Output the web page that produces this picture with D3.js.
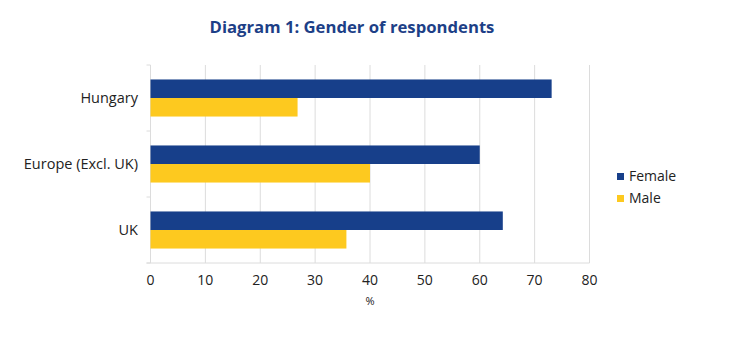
<!DOCTYPE html>
<meta charset="utf-8">
<head>
  <script src="https://cdn.jsdelivr.net/npm/d3@7"></script>
</head>
<style>
  body { margin: 0; background: #fff; }
  text { font-family: "Open Sans", sans-serif; fill: #222; }
</style>
<body></body>
<script>
  var categories = ["Hungary", "Europe (Excl. UK)", "UK"];
  var series = ["Female", "Male"];
  var female = [73.1, 60, 64.2];
  var male = [26.8, 40, 35.7];
  var xTicks = [0, 10, 20, 30, 40, 50, 60, 70, 80];
  var colors = ["#173f8a", "#fdc91f"];

  var width = 735, height = 337;
  var margin = {left: 150.5, right: 145.5, top: 65, bottom: 74};

  var svg = d3.select("body").append("svg")
      .attr("width", width)
      .attr("height", height);

  svg.append("text")
      .attr("x", 352)
      .attr("y", 33)
      .attr("text-anchor", "middle")
      .style("font-size", "16.7px")
      .style("font-weight", "bold")
      .style("fill", "#1d3f87")
      .text("Diagram 1: Gender of respondents");

  var x = d3.scaleLinear().domain([0, 80]).range([margin.left, width - margin.right]);
  var y = d3.scaleBand().domain(categories).range([margin.top, height - margin.bottom]);
  var inner = d3.scaleBand().domain(series).range([0, y.bandwidth()]).paddingInner(0).paddingOuter(0.78);

  // grid
  svg.append("g").selectAll("line").data(xTicks).enter().append("line")
      .attr("x1", function(d) { return x(d); })
      .attr("x2", function(d) { return x(d); })
      .attr("y1", margin.top)
      .attr("y2", height - margin.bottom)
      .style("stroke", "#dcdcdc")
      .style("stroke-width", 1);

  // y ticks at band edges
  var edges = categories.map(function(c) { return y(c); }).concat([y.range()[1]]);
  svg.append("g").selectAll("line").data(edges).enter().append("line")
      .attr("x1", margin.left - 4)
      .attr("x2", margin.left)
      .attr("y1", function(d) { return d; })
      .attr("y2", function(d) { return d; })
      .style("stroke", "#dcdcdc");

  // bottom axis line
  svg.append("line")
      .attr("x1", margin.left - 4).attr("x2", x(80))
      .attr("y1", height - margin.bottom).attr("y2", height - margin.bottom)
      .style("stroke", "#dcdcdc");

  var rows = categories.map(function(c, i) { return {cat: c, vals: [female[i], male[i]]}; });

  var g = svg.append("g").selectAll("g").data(rows).enter().append("g")
      .attr("transform", function(d) { return "translate(0," + y(d.cat) + ")"; });

  g.selectAll("rect").data(function(d) { return d.vals.map(function(v, j) { return {s: series[j], v: v, j: j}; }); })
    .enter().append("rect")
      .attr("x", x(0))
      .attr("y", function(d) { return inner(d.s); })
      .attr("height", inner.bandwidth())
      .attr("width", function(d) { return x(d.v) - x(0); })
      .style("fill", function(d) { return colors[d.j]; });

  // category labels
  svg.append("g").selectAll("text").data(categories).enter().append("text")
      .attr("x", 138)
      .attr("y", function(d) { return y(d) + y.bandwidth() / 2 + 5; })
      .attr("text-anchor", "end")
      .style("font-size", "14.5px")
      .text(function(d) { return d; });

  // x tick labels
  svg.append("g").selectAll("text").data(xTicks).enter().append("text")
      .attr("x", function(d) { return x(d); })
      .attr("y", 285)
      .attr("text-anchor", "middle")
      .style("font-size", "14px")
      .text(function(d) { return d; });

  svg.append("text")
      .attr("x", x(40))
      .attr("y", 305)
      .attr("text-anchor", "middle")
      .style("font-size", "11px")
      .text("%");

  // legend
  var leg = svg.append("g").selectAll("g").data(series).enter().append("g")
      .attr("transform", function(d, i) { return "translate(617," + (172 + i * 22) + ")"; });
  leg.append("rect").attr("width", 7).attr("height", 7).attr("y", 1)
      .style("fill", function(d, i) { return colors[i]; });
  leg.append("text").attr("x", 12).attr("y", 9)
      .style("font-size", "14px")
      .text(function(d) { return d; });
</script>
